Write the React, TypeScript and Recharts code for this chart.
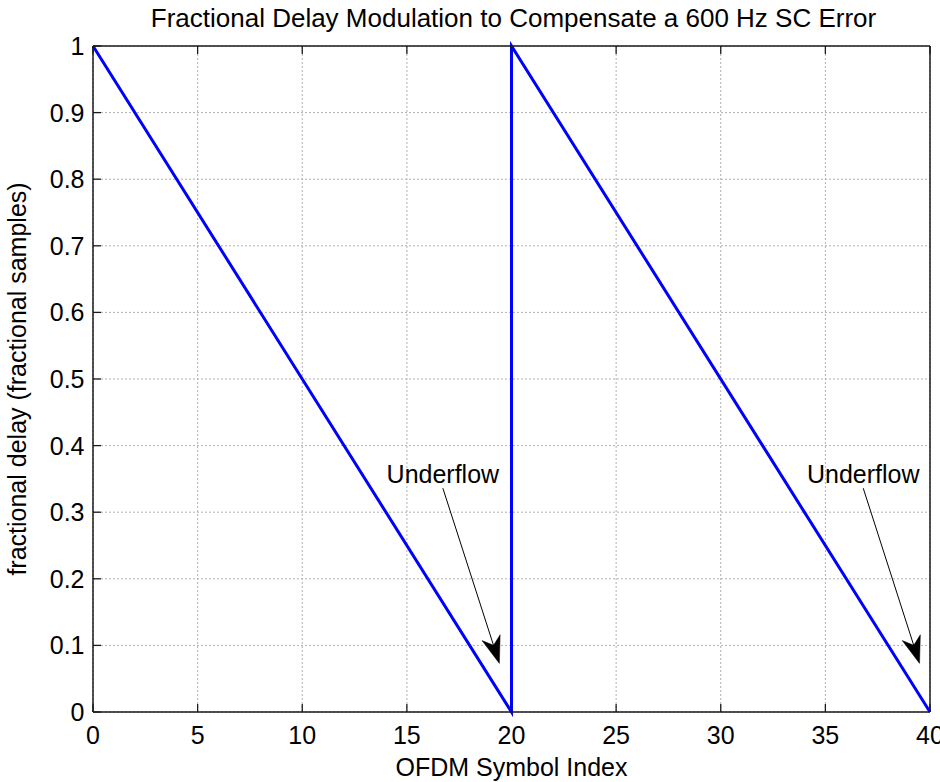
import React from 'react';
import { LineChart, Line, XAxis, YAxis, CartesianGrid, ReferenceLine } from 'recharts';

// ---- data ----
const symbolIndex = [0, 20, 20, 40];
const fractionalDelay = [1, 0, 1, 0];
const xTicks = [0, 5, 10, 15, 20, 25, 30, 35, 40];
const xTickLabels = ['0', '5', '10', '15', '20', '25', '30', '35', '40'];
const yTicks = [0, 0.1, 0.2, 0.3, 0.4, 0.5, 0.6, 0.7, 0.8, 0.9, 1];
const yTickLabels = ['0', '0.1', '0.2', '0.3', '0.4', '0.5', '0.6', '0.7', '0.8', '0.9', '1'];
const annotationLabels = ['Underflow', 'Underflow'];
const arrowStartX = [16.72, 36.81];
const arrowStartY = [0.336, 0.336];
const arrowEndX = [19.42, 39.5];
const arrowEndY = [0.073, 0.073];

const titleText = 'Fractional Delay Modulation to Compensate a 600 Hz SC Error';
const xLabelText = 'OFDM Symbol Index';
const yLabelText = 'fractional delay (fractional samples)';

const data = symbolIndex.map((x, i) => ({ x, y: fractionalDelay[i] }));

const FONT = '"Liberation Sans", Arial, Helvetica, sans-serif';
const FS = 25;
const AX = '#1a1a1a';
const TICK = 8;

const labelFor = (ticks: number[], labels: string[], v: number) => {
  const i = ticks.findIndex((t) => Math.abs(t - v) < 1e-9);
  return i >= 0 ? labels[i] : String(v);
};

const LeftTick = (p: any) => (
  <g>
    <line x1={p.x} y1={p.y} x2={p.x + TICK} y2={p.y} stroke={AX} strokeWidth={1.3} />
    <text x={p.x - 8.5} y={p.y + 9} textAnchor="end" fontSize={FS} fontFamily={FONT} fill="#000">
      {labelFor(yTicks, yTickLabels, p.payload.value)}
    </text>
  </g>
);
const RightTick = (p: any) => (
  <line x1={p.x} y1={p.y} x2={p.x - TICK} y2={p.y} stroke={AX} strokeWidth={1.3} />
);
const BottomTick = (p: any) => (
  <g>
    <line x1={p.x} y1={p.y} x2={p.x} y2={p.y - TICK} stroke={AX} strokeWidth={1.3} />
    <text x={p.x} y={p.y + 32} textAnchor="middle" fontSize={FS} fontFamily={FONT} fill="#000">
      {labelFor(xTicks, xTickLabels, p.payload.value)}
    </text>
  </g>
);
const TopTick = (p: any) => (
  <line x1={p.x} y1={p.y} x2={p.x} y2={p.y + TICK} stroke={AX} strokeWidth={1.3} />
);

const makeArrow = (text: string) => (p: any) => {
  const { x1, y1, x2, y2 } = p;
  const dx = x2 - x1;
  const dy = y2 - y1;
  const len = Math.sqrt(dx * dx + dy * dy) || 1;
  const ux = dx / len;
  const uy = dy / len;
  const nx = -uy;
  const ny = ux;
  const L = 27;
  const hw = 9.5;
  const notch = 19;
  const bx = x2 - ux * L;
  const by = y2 - uy * L;
  const cx = x2 - ux * notch;
  const cy = y2 - uy * notch;
  const pts = [
    [x2, y2],
    [bx + nx * hw, by + ny * hw],
    [cx, cy],
    [bx - nx * hw, by - ny * hw],
  ]
    .map((q) => q.join(','))
    .join(' ');
  return (
    <g>
      <line x1={x1} y1={y1} x2={cx} y2={cy} stroke="#000" strokeWidth={1} />
      <polygon points={pts} fill="#000" stroke="#000" strokeWidth={0.5} />
      <text x={x1} y={y1 - 5} textAnchor="middle" fontSize={FS} fontFamily={FONT} fill="#000">
        {text}
      </text>
    </g>
  );
};

export default function App() {
  return (
    <div style={{ position: 'absolute', left: 0, top: 0, width: 940, height: 782, background: '#fff' }}>
      <LineChart width={940} height={782} data={data} margin={{ top: 0, right: 0, bottom: 0, left: 0 }}>
        <CartesianGrid stroke="#b0b0b0" strokeDasharray="2 2" strokeWidth={1} xAxisId={0} yAxisId={0} />
        <XAxis
          xAxisId={0}
          dataKey="x"
          type="number"
          domain={[0, 40]}
          ticks={xTicks}
          interval={0}
          height={70}
          tickSize={0}
          tickMargin={0}
          tickLine={false}
          axisLine={{ stroke: AX, strokeWidth: 1.5 }}
          tick={(p: any) => <BottomTick {...p} />}
          label={{
            content: (lp: any) => {
              const vb = lp.viewBox || { x: 93, width: 837, y: 712, height: 70 };
              return (
                <text x={vb.x + vb.width / 2} y={776} textAnchor="middle" fontSize={FS} fontFamily={FONT} fill="#000">
                  {xLabelText}
                </text>
              );
            },
          }}
        />
        <XAxis
          xAxisId="top"
          orientation="top"
          dataKey="x"
          type="number"
          domain={[0, 40]}
          ticks={xTicks}
          interval={0}
          height={46}
          tickSize={0}
          tickMargin={0}
          tickLine={false}
          axisLine={{ stroke: AX, strokeWidth: 1.5 }}
          tick={(p: any) => <TopTick {...p} />}
          label={{
            content: (lp: any) => {
              const vb = lp.viewBox || { x: 93, width: 837 };
              return (
                <text x={vb.x + vb.width / 2 + 2} y={27} textAnchor="middle" fontSize={26} fontFamily={FONT} fill="#000">
                  {titleText}
                </text>
              );
            },
          }}
        />
        <YAxis
          yAxisId={0}
          type="number"
          domain={[0, 1]}
          ticks={yTicks}
          interval={0}
          width={93}
          tickSize={0}
          tickMargin={0}
          tickLine={false}
          axisLine={{ stroke: AX, strokeWidth: 1.5 }}
          tick={(p: any) => <LeftTick {...p} />}
          label={{
            content: (lp: any) => {
              const vb = lp.viewBox || { y: 46, height: 666 };
              const cy = vb.y + vb.height / 2;
              return (
                <text
                  x={26}
                  y={cy}
                  transform={`rotate(-90, 26, ${cy})`}
                  textAnchor="middle"
                  fontSize={FS}
                  fontFamily={FONT}
                  fill="#000"
                >
                  {yLabelText}
                </text>
              );
            },
          }}
        />
        <YAxis
          yAxisId="right"
          orientation="right"
          type="number"
          domain={[0, 1]}
          ticks={yTicks}
          interval={0}
          width={10}
          tickSize={0}
          tickMargin={0}
          tickLine={false}
          axisLine={{ stroke: AX, strokeWidth: 1.5 }}
          tick={(p: any) => <RightTick {...p} />}
        />
        <Line
          xAxisId={0}
          yAxisId={0}
          type="linear"
          dataKey="y"
          stroke="#0000ff"
          strokeWidth={3}
          dot={false}
          activeDot={false}
          isAnimationActive={false}
        />
        {annotationLabels.map((t, i) => (
          <ReferenceLine
            key={i}
            xAxisId={0}
            yAxisId={0}
            ifOverflow="visible"
            segment={[
              { x: arrowStartX[i], y: arrowStartY[i] },
              { x: arrowEndX[i], y: arrowEndY[i] },
            ]}
            shape={makeArrow(t)}
          />
        ))}
      </LineChart>
    </div>
  );
}
